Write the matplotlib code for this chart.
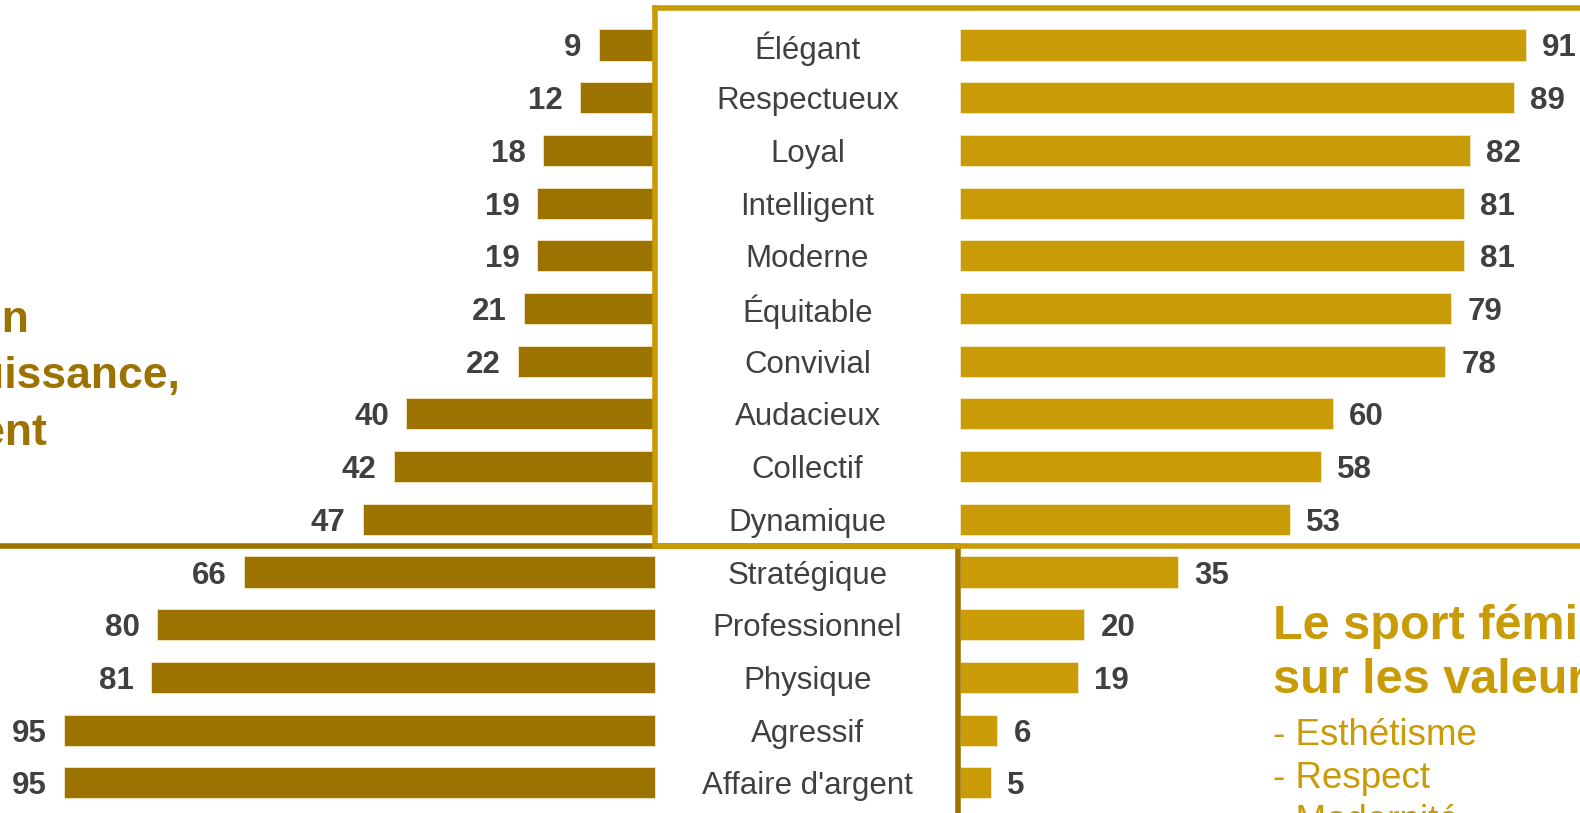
import matplotlib.pyplot as plt
import numpy as np

plt.rcParams['font.family'] = ['Liberation Sans', 'DejaVu Sans']

# Données
categories = ['Élégant', 'Respectueux', 'Loyal', 'Intelligent', 'Moderne',
              'Équitable', 'Convivial', 'Audacieux', 'Collectif', 'Dynamique',
              'Stratégique', 'Professionnel', 'Physique', 'Agressif',
              "Affaire d'argent"]
masculin = [9, 12, 18, 19, 19, 21, 22, 40, 42, 47, 66, 80, 81, 95, 95]
feminin = [91, 89, 82, 81, 81, 79, 78, 60, 58, 53, 35, 20, 19, 6, 5]

texte_gauche = ['Le sport masculin', 'axé sur la puissance,', "et l'argent"]
titre_droite = ['Le sport féminin', 'sur les valeurs']
puces_droite = ['- Esthétisme', '- Respect', '- Modernité']

c_masc = '#9C7300'
c_fem = '#C89B07'
c_txt = '#404040'

W, H = 1580, 813
fig = plt.figure(figsize=(W / 100, H / 100), dpi=100)
ax = fig.add_axes([0, 0, 1, 1])

ppu = 6.22            # pixels par unité
gap = 305 / ppu       # espace central pour les libellés
y = np.arange(len(categories))

ax.barh(y, -np.array(masculin), left=0, height=0.59, color=c_masc,
        edgecolor='#f3e6c0', linewidth=0.6, zorder=2)
ax.barh(y, feminin, left=gap, height=0.59, color=c_fem,
        edgecolor='#f6ebc8', linewidth=0.6, zorder=2)

for i in range(len(categories)):
    ax.text(gap / 2, y[i], categories[i], ha='center', va='center_baseline',
            fontsize=22.5, color=c_txt)
    ax.text(-masculin[i] - 2.8, y[i], str(masculin[i]), ha='right',
            va='center_baseline', fontsize=22.5, fontweight='bold', color=c_txt)
    ax.text(gap + feminin[i] + 2.6, y[i], str(feminin[i]), ha='left',
            va='center_baseline', fontsize=22.5, fontweight='bold', color=c_txt)

# Cadres
top, mid = -0.693, 9.507
ax.plot([0, 200], [top, top], color=c_fem, lw=4, zorder=3,
        solid_capstyle='projecting')
ax.plot([0, 0], [top, mid], color=c_fem, lw=4, zorder=3,
        solid_capstyle='projecting')
ax.plot([-200, gap - 0.3], [mid, mid], color=c_masc, lw=4, zorder=3)
ax.plot([gap - 0.3, gap - 0.3], [mid, 20], color=c_masc, lw=4, zorder=3)
ax.plot([0, 200], [mid, mid], color=c_fem, lw=4, zorder=4)

ax.set_xlim(-655 / ppu, (W - 655) / ppu)
ax.set_ylim((H - 45) / 52.7, -45 / 52.7)
ax.axis('off')

# Textes latéraux
ends = [29, 180, 47]
bases = [332, 388, 445]
for t, xe, yb in zip(texte_gauche, ends, bases):
    fig.text(xe / W, 1 - yb / H, t, ha='right', va='baseline',
             fontsize=32, fontweight='bold', color=c_masc)

for k, t in enumerate(titre_droite):
    fig.text(1273 / W, 1 - (639 + 54 * k) / H, t, ha='left', va='baseline',
             fontsize=35, fontweight='bold', color=c_fem)
for k, t in enumerate(puces_droite):
    fig.text(1273 / W, 1 - (745 + 43 * k) / H, t, ha='left', va='baseline',
             fontsize=26.5, color=c_fem)

fig.savefig('out.png', dpi=100)
